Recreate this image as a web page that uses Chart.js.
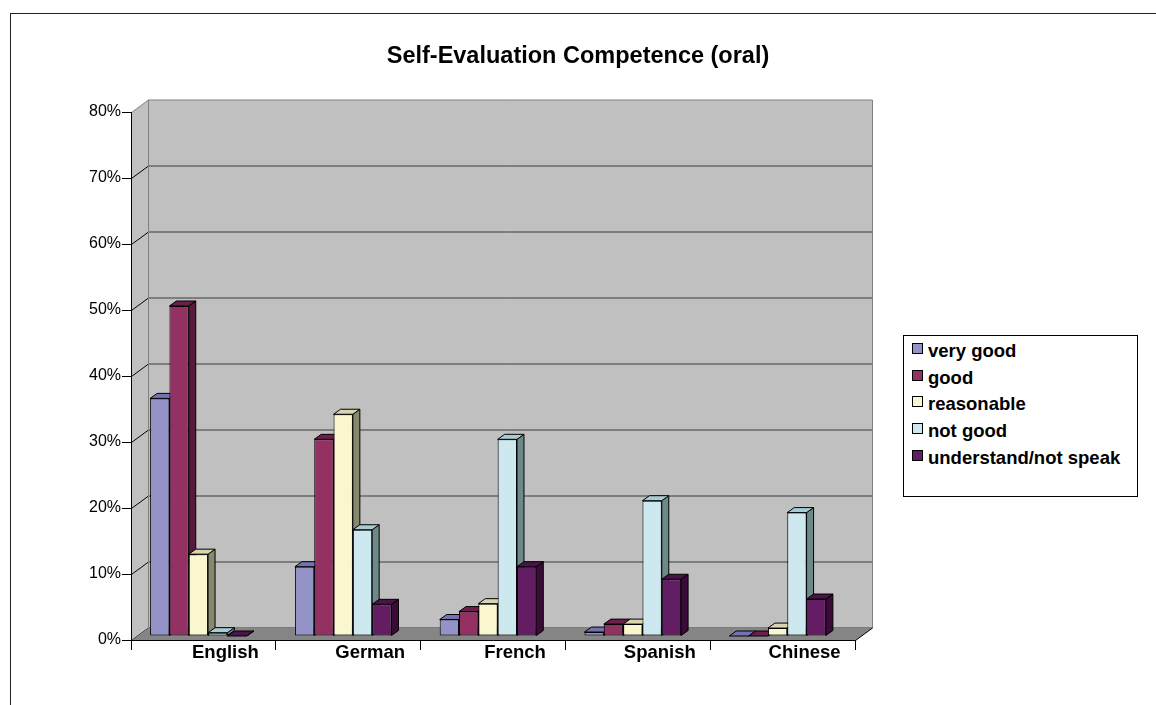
<!DOCTYPE html>
<html>
<head>
<meta charset="utf-8">
<script src="https://cdn.jsdelivr.net/npm/chart.js@4.4.1/dist/chart.umd.min.js"></script>
<style>
  html, body { margin: 0; padding: 0; background: #fff; overflow: hidden; }
  #wrap { position: relative; width: 1156px; height: 705px; overflow: hidden; }
  #frame { position: absolute; left: 10px; top: 13px; width: 1200px; height: 800px; border: 1px solid #222; }
  #c { position: absolute; left: 0; top: 0; }
  #legend { position: absolute; left: 903px; top: 335px; width: 233px; height: 160px; border: 1px solid #000; background: #fff;
            font: bold 18.5px "Liberation Sans", Arial, sans-serif; color: #000; }
  #legend .sw { position: absolute; left: 8px; width: 9px; height: 9px; border: 1px solid #000; }
  #legend .lb { position: absolute; left: 24px; height: 22px; line-height: 22px; white-space: nowrap; }
</style>
</head>
<body>
<div id="wrap">
  <div id="frame"></div>
  <canvas id="c" width="1156" height="705"></canvas>
  <div id="legend"></div>
</div>
<script>
const categories = ['English', 'German', 'French', 'Spanish', 'Chinese'];
const seriesNames = ['very good', 'good', 'reasonable', 'not good', 'understand/not speak'];
const veryGood = [36, 10.5, 2.5, 0.6, 0];
const good = [50, 29.8, 3.7, 1.8, 0];
const reasonable = [12.4, 33.6, 4.9, 1.8, 1.2];
const notGood = [0.5, 16.1, 29.8, 20.5, 18.7];
const understandNotSpeak = [0, 4.8, 10.5, 8.6, 5.6];
const yMin = 0, yMax = 80, yStep = 10;

const FONT = '"Liberation Sans", Arial, sans-serif';
const frontColors = ['#9393C8', '#933262', '#FAF7D0', '#CDE9EF', '#631D62'];
const topColors   = ['#7272B4', '#6C2049', '#D8D5B0', '#A7CDD3', '#4C134B'];
const sideColors  = ['#5C5C92', '#561A3B', '#88886C', '#6C8A88', '#3A0B38'];

// depth of the walls, of the bars, and where the bar row sits on the floor
const WALL_DX = 17, WALL_DY = -12.5;
const BAR_DX = 7, BAR_DY = -5;
const SHIFT_X = -5, SHIFT_Y = -4;

function poly(ctx, pts, fill, stroke) {
  ctx.beginPath();
  ctx.moveTo(pts[0][0], pts[0][1]);
  for (let i = 1; i < pts.length; i++) ctx.lineTo(pts[i][0], pts[i][1]);
  ctx.closePath();
  if (fill) { ctx.fillStyle = fill; ctx.fill(); }
  if (stroke) { ctx.strokeStyle = stroke; ctx.lineWidth = 1; ctx.stroke(); }
}
function seg(ctx, x1, y1, x2, y2, color) {
  ctx.beginPath();
  ctx.moveTo(x1, y1);
  ctx.lineTo(x2, y2);
  ctx.strokeStyle = color;
  ctx.lineWidth = 1;
  ctx.stroke();
}

const box3d = {
  id: 'box3d',
  beforeDraw(chart) {
    const ctx = chart.ctx, a = chart.chartArea, y = chart.scales.y;
    const L = Math.round(a.left) + 0.5, R = Math.round(a.right) + 0.5;
    const T = Math.round(a.top) + 0.5, B = Math.round(a.bottom) + 0.5;
    ctx.save();
    // back wall + left wall
    poly(ctx, [[L + WALL_DX, T + WALL_DY], [R + WALL_DX, T + WALL_DY], [R + WALL_DX, B + WALL_DY], [L + WALL_DX, B + WALL_DY]], '#C0C0C0');
    poly(ctx, [[L, T], [L + WALL_DX, T + WALL_DY], [L + WALL_DX, B + WALL_DY], [L, B]], '#C0C0C0');
    // grid lines on both walls
    y.ticks.forEach(t => {
      if (t.value === yMax) return;
      const py = Math.round(y.getPixelForValue(t.value)) + 0.5;
      seg(ctx, L + WALL_DX, py + WALL_DY, R + WALL_DX, py + WALL_DY, '#3a3a3a');
      seg(ctx, L, py, L + WALL_DX, py + WALL_DY, '#000');
    });
    // floor
    poly(ctx, [[L, B], [R, B], [R + WALL_DX, B + WALL_DY], [L + WALL_DX, B + WALL_DY]], '#858585');
    // wall edges
    seg(ctx, L, T, L + WALL_DX, T + WALL_DY, '#808080');
    seg(ctx, L + WALL_DX, T + WALL_DY, R + WALL_DX, T + WALL_DY, '#808080');
    seg(ctx, R + WALL_DX, T + WALL_DY, R + WALL_DX, B + WALL_DY, '#808080');
    seg(ctx, L + WALL_DX, T + WALL_DY, L + WALL_DX, B + WALL_DY, '#808080');
    seg(ctx, R, B, R + WALL_DX, B + WALL_DY, '#000');
    ctx.restore();
  },
  beforeDatasetsDraw(chart) {
    const ctx = chart.ctx;
    ctx.save();
    ctx.translate(SHIFT_X, SHIFT_Y);
    // depth faces first, dataset by dataset from left to right; fronts go on top
    chart.data.datasets.forEach((ds, i) => {
      chart.getDatasetMeta(i).data.forEach(bar => {
        const p = bar.getProps(['x', 'y', 'base', 'width'], true);
        const l = p.x - p.width / 2, r = p.x + p.width / 2;
        poly(ctx, [[r, p.y], [r + BAR_DX, p.y + BAR_DY], [r + BAR_DX, p.base + BAR_DY], [r, p.base]], sideColors[i], '#000');
        poly(ctx, [[l, p.y], [l + BAR_DX, p.y + BAR_DY], [r + BAR_DX, p.y + BAR_DY], [r, p.y]], topColors[i], '#000');
      });
    });
  },
  afterDatasetsDraw(chart) {
    chart.ctx.restore();
  }
};

const seriesData = [veryGood, good, reasonable, notGood, understandNotSpeak];

const chart = new Chart(document.getElementById('c'), {
  type: 'bar',
  data: {
    labels: categories,
    datasets: seriesNames.map((name, i) => ({
      label: name,
      data: seriesData[i],
      backgroundColor: frontColors[i],
      borderColor: '#000',
      borderWidth: 1,
      borderSkipped: false,
      categoryPercentage: 0.667,
      barPercentage: 1.0
    }))
  },
  options: {
    responsive: false,
    devicePixelRatio: 1,
    animation: false,
    layout: { padding: 0 },
    plugins: {
      legend: { display: false },
      tooltip: { enabled: false },
      title: {
        display: true,
        text: 'Self-Evaluation Competence (oral)',
        color: '#000',
        font: { family: FONT, size: 23.5, weight: 'bold' },
        padding: { top: 42, bottom: 41.8 }
      }
    },
    scales: {
      x: {
        grid: { offset: true, drawOnChartArea: false, drawTicks: true, tickLength: 10, color: '#000', tickColor: '#000' },
        border: { display: true, color: '#000' },
        ticks: { color: '#000', font: { family: FONT, size: 18.5, weight: 'bold' }, labelOffset: 22, padding: -8, maxRotation: 0, autoSkip: false },
        afterFit(s) { s.height = 65; }
      },
      y: {
        min: yMin,
        max: yMax,
        grid: { drawOnChartArea: false, drawTicks: true, tickLength: 9, tickColor: '#000' },
        border: { display: true, color: '#000' },
        ticks: { stepSize: yStep, color: '#000', padding: 1, font: { family: FONT, size: 16 }, callback: v => v + '%' },
        afterFit(s) { s.width = 131; }
      },
      // empty right-hand strip that keeps room for the legend box
      legendSpace: {
        position: 'right',
        display: true,
        grid: { display: false },
        border: { display: false },
        ticks: { display: false },
        afterFit(s) { s.width = 301; }
      }
    }
  },
  plugins: [box3d]
});

// legend box, built from the chart's datasets
const legend = document.getElementById('legend');
chart.data.datasets.forEach((ds, i) => {
  const cy = 15 + i * 26.7;
  const sw = document.createElement('div');
  sw.className = 'sw';
  sw.style.top = (cy - 8) + 'px';
  sw.style.background = ds.backgroundColor;
  const lb = document.createElement('div');
  lb.className = 'lb';
  lb.style.top = (cy - 11) + 'px';
  lb.textContent = ds.label;
  legend.appendChild(sw);
  legend.appendChild(lb);
});
</script>
</body>
</html>
